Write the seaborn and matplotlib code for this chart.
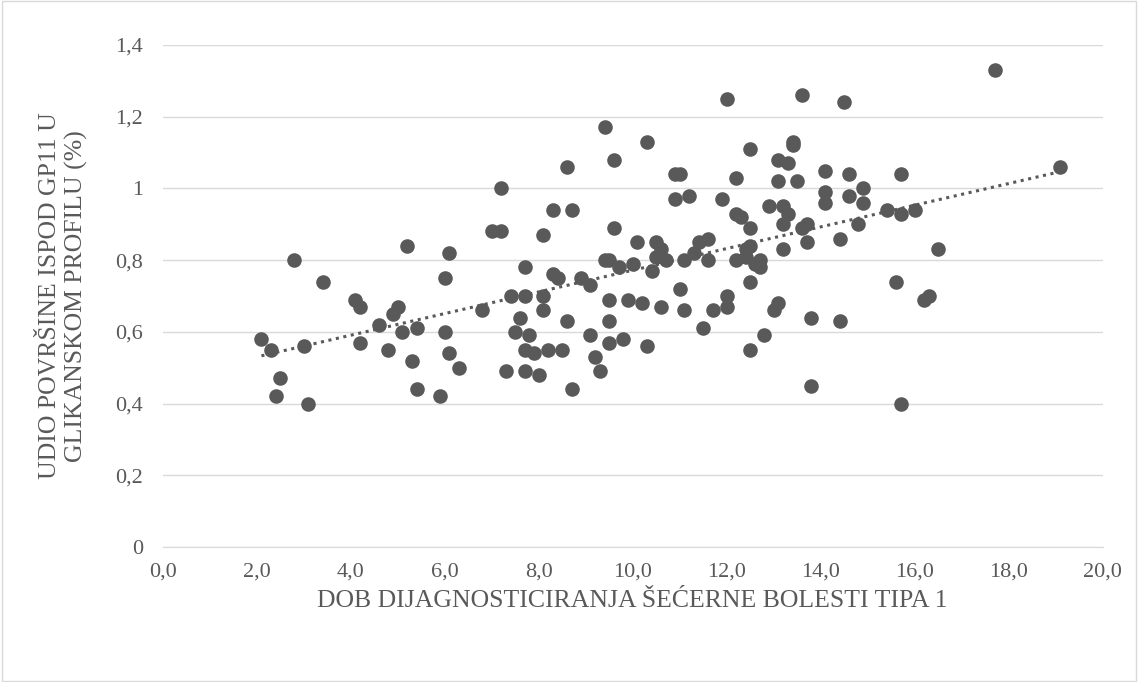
import numpy as np
import pandas as pd
import seaborn as sns
import matplotlib.pyplot as plt
from matplotlib.patches import Rectangle
from matplotlib.ticker import FuncFormatter

# %% Data
dob = [2.1, 2.3, 2.4, 2.5, 2.8, 3.0, 3.1, 3.4, 4.1, 4.2, 4.2, 4.6, 4.8, 4.9, 5.0, 5.1, 5.2, 5.3, 5.4, 5.4,
       5.9, 6.0, 6.0, 6.1, 6.1, 6.3, 6.8, 7.0, 7.2, 7.2, 7.3, 7.4, 7.5, 7.6, 7.7, 7.7, 7.7, 7.7, 7.8, 7.9,
       8.0, 8.1, 8.1, 8.1, 8.2, 8.3, 8.3, 8.4, 8.5, 8.6, 8.6, 8.7, 8.7, 8.9, 9.1, 9.1, 9.2, 9.3, 9.4, 9.4,
       9.5, 9.5, 9.5, 9.5, 9.6, 9.6, 9.7, 9.8, 9.9, 10.0, 10.1, 10.2, 10.3, 10.3, 10.4, 10.5, 10.5, 10.6, 10.6, 10.7,
       10.9, 10.9, 11.0, 11.0, 11.1, 11.1, 11.2, 11.3, 11.4, 11.5, 11.6, 11.6, 11.7, 11.9, 12.0, 12.0, 12.0, 12.2, 12.2, 12.2,
       12.3, 12.4, 12.4, 12.5, 12.5, 12.5, 12.5, 12.5, 12.6, 12.7, 12.7, 12.8, 12.9, 13.0, 13.1, 13.1, 13.1, 13.2, 13.2, 13.2,
       13.3, 13.3, 13.4, 13.4, 13.5, 13.6, 13.6, 13.7, 13.7, 13.8, 13.8, 14.1, 14.1, 14.1, 14.4, 14.4, 14.5, 14.6, 14.6, 14.8,
       14.9, 14.9, 15.4, 15.6, 15.7, 15.7, 15.7, 16.0, 16.2, 16.3, 16.5, 17.7, 19.1]
udio = [0.58, 0.55, 0.42, 0.47, 0.80, 0.56, 0.40, 0.74, 0.69, 0.57, 0.67, 0.62, 0.55, 0.65, 0.67, 0.60, 0.84, 0.52, 0.44, 0.61,
        0.42, 0.75, 0.60, 0.82, 0.54, 0.50, 0.66, 0.88, 0.88, 1.00, 0.49, 0.70, 0.60, 0.64, 0.78, 0.70, 0.55, 0.49, 0.59, 0.54,
        0.48, 0.87, 0.70, 0.66, 0.55, 0.76, 0.94, 0.75, 0.55, 1.06, 0.63, 0.44, 0.94, 0.75, 0.73, 0.59, 0.53, 0.49, 0.80, 1.17,
        0.80, 0.69, 0.63, 0.57, 0.89, 1.08, 0.78, 0.58, 0.69, 0.79, 0.85, 0.68, 1.13, 0.56, 0.77, 0.81, 0.85, 0.83, 0.67, 0.80,
        0.97, 1.04, 1.04, 0.72, 0.66, 0.80, 0.98, 0.82, 0.85, 0.61, 0.80, 0.86, 0.66, 0.97, 1.25, 0.70, 0.67, 1.03, 0.93, 0.80,
        0.92, 0.83, 0.81, 1.11, 0.89, 0.84, 0.74, 0.55, 0.79, 0.80, 0.78, 0.59, 0.95, 0.66, 1.02, 0.68, 1.08, 0.95, 0.90, 0.83,
        0.93, 1.07, 1.13, 1.12, 1.02, 1.26, 0.89, 0.90, 0.85, 0.64, 0.45, 1.05, 0.99, 0.96, 0.86, 0.63, 1.24, 0.98, 1.04, 0.90,
        0.96, 1.00, 0.94, 0.74, 0.93, 1.04, 0.40, 0.94, 0.69, 0.70, 0.83, 1.33, 1.06]

df = pd.DataFrame({'dob': dob, 'udio': udio})

# %% Plot
sns.set_style('white')
plt.rcParams['font.family'] = ['Liberation Serif', 'DejaVu Serif']

fig = plt.figure(figsize=(11.38, 6.82), dpi=100)
fig.patches.append(Rectangle((0.002, 0.002), 0.996, 0.996, transform=fig.transFigure,
                             fill=False, edgecolor='#d9d9d9', linewidth=1))
ax = fig.add_axes([0.143, 0.198, 0.826, 0.736])

sns.regplot(x='dob', y='udio', data=df, ax=ax, ci=None,
            scatter_kws={'s': 110, 'color': '#595959', 'alpha': 1, 'linewidths': 0, 'zorder': 3},
            line_kws={'color': '#595959', 'linestyle': (0, (1, 1.5)), 'linewidth': 2.2, 'zorder': 4})

ax.set_xlim(0, 20)
ax.set_ylim(0, 1.4)
ax.set_xticks(np.arange(0, 21, 2))
ax.set_yticks(np.arange(0, 1.41, 0.2))
ax.xaxis.set_major_formatter(FuncFormatter(lambda v, p: f'{v:.1f}'.replace('.', ',')))
ax.yaxis.set_major_formatter(FuncFormatter(lambda v, p: '0' if v == 0 else ('1' if abs(v - 1) < 1e-9 else f'{v:.1f}'.replace('.', ','))))
ax.grid(axis='y', color='#d9d9d9', linewidth=1)
ax.grid(axis='x', visible=False)
ax.set_axisbelow(True)
for s in ['top', 'right', 'left']:
    ax.spines[s].set_visible(False)
ax.spines['bottom'].set_color('#d9d9d9')
ax.tick_params(axis='x', length=5, color='#d9d9d9', labelsize=16, colors='#595959', pad=6)
ax.tick_params(axis='y', length=0, labelsize=16, colors='#595959', pad=14)
ax.set_xlabel('DOB DIJAGNOSTICIRANJA ŠEĆERNE BOLESTI TIPA 1', fontsize=18.5, color='#595959', labelpad=6)
ax.set_ylabel('UDIO POVRŠINE ISPOD GP11 U\nGLIKANSKOM PROFILU (%)', fontsize=18.5, color='#595959', labelpad=20)

fig.savefig('out.png', dpi=100)
